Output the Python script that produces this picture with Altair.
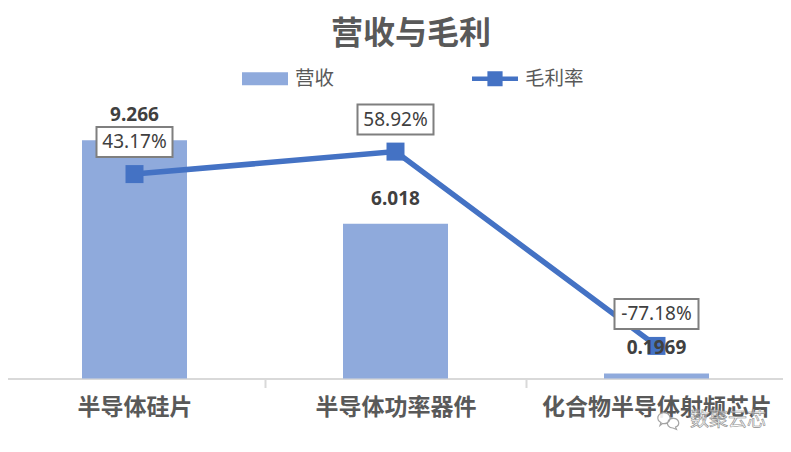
import altair as alt
import pandas as pd

categories = ["半导体硅片", "半导体功率器件", "化合物半导体射频芯片"]
revenue = [9.266, 6.018, 0.1969]
revenue_labels = ["9.266", "6.018", "0.1969"]
margin = [43.17, 58.92, -77.18]
margin_labels = ["43.17%", "58.92%", "-77.18%"]
series = ["营收", "毛利率"]

df = pd.DataFrame({"cat": categories, "rev": revenue, "revl": revenue_labels,
                   "m": margin, "ml": margin_labels})
BAR, LINE, GREY = "#8faadc", "#4472c4", "#595959"

x = alt.X("cat:N", sort=categories, title=None, scale=alt.Scale(paddingInner=0, paddingOuter=0),
          axis=alt.Axis(labelAngle=0, labelFont="Noto Sans CJK SC", labelFontWeight="bold",
                        labelFontSize=23, labelColor=GREY, labelPadding=9, labelLimit=300,
                        domainColor="#d9d9d9", domainWidth=2, tickColor="#d9d9d9", tickWidth=2,
                        tickSize=9, tickBand="extent", labelBaseline="top"))
y1 = alt.Y("rev:Q", axis=None, scale=alt.Scale(domain=[0, 10], nice=False))
y2 = alt.Y("m:Q", axis=None, scale=alt.Scale(domain=[-100, 80], nice=False))

base = alt.Chart(df)
bars = base.mark_bar(color=BAR, size=105).encode(x=x, y=y1)
line = base.mark_line(color=LINE, strokeWidth=5.5).encode(x=x, y=y2)
pts = base.mark_point(filled=True, shape="square", size=324, color=LINE, opacity=1).encode(x=x, y=y2)

boxes = base.transform_calculate(w="28 + 8 * length(datum.ml)").mark_bar(
    fill="white", stroke="#7f7f7f", strokeWidth=2, yOffset=-47, y2Offset=-17
).encode(x=x, y=y2, y2="m:Q", size=alt.Size("w:Q", scale=None, legend=None))
box_text = base.mark_text(font="Noto Sans", fontSize=19, color="#404040", yOffset=-32).encode(
    x=x, y=y2, text="ml:N")
rev_text = base.mark_text(font="Noto Sans", fontSize=19, fontWeight="bold", color="#404040", yOffset=-25).encode(
    x=x, y=y1, text="revl:N")

helper = alt.Chart(pd.DataFrame({"s": series})).mark_point(filled=True, size=0, opacity=1).encode(
    color=alt.Color("s:N", sort=series, scale=alt.Scale(domain=series, range=[BAR, LINE]),
        legend=alt.Legend(orient="none", legendX=238, legendY=-66, title=None, columns=2,
                          columnPadding=137, symbolSize=2116, symbolStrokeWidth=0, labelOffset=7,
                          labelFont="Noto Sans CJK SC", labelFontSize=19.5, labelColor=GREY,
                          symbolOpacity=1)),
    shape=alt.Shape("s:N", sort=series, scale=alt.Scale(domain=series, range=[
        "M-1,-0.28H1V0.28H-1Z",
        "M-1,-0.1H-0.33V-0.33H0.33V-0.1H1V0.1H0.33V0.33H-0.33V0.1H-1Z"]), legend=alt.Legend(title=None)),
)

wm_icon = alt.Chart(pd.DataFrame({"a": ["icon"]})).mark_point(
    shape="M-1,-0.3A0.62,0.55 0 1 1 -0.55,0.4L-0.8,0.6L-0.7,0.3A0.62,0.55 0 0 1 -1,-0.3ZM0,0.2A0.55,0.45 0 1 1 0.75,0.75L0.85,1L0.5,0.85A0.55,0.45 0 0 1 0,0.2Z",
    size=400, stroke="#9a9a9a", strokeWidth=1.2, fill="white", filled=False, opacity=0.9
).encode(x=alt.value(664), y=alt.value(298))
wm_text = alt.Chart(pd.DataFrame({"t": ["数聚云芯"]})).mark_text(
    font="Noto Sans CJK SC", fontSize=19, fill="#ffffff", fillOpacity=0.55, stroke="#8c8c8c",
    strokeWidth=0.6, align="center").encode(x=alt.value(724), y=alt.value(298), text="t:N")

chart = alt.layer(bars, line, pts, boxes, box_text, rev_text, helper, wm_icon, wm_text).resolve_scale(
    y="independent"
).properties(
    width=783, height=257,
    title=alt.TitleParams("营收与毛利", font="Noto Sans CJK SC", fontSize=32, fontWeight="bold",
                          color=GREY, anchor="middle", dx=15.5, offset=0, dy=-5),
    autosize=alt.AutoSizeParams(type="none"),
    padding={"left": -4, "top": 113.5, "right": -4, "bottom": 73},
).configure_view(stroke=None).configure_axis(grid=False)

chart.save("out.html", embed_options={"renderer": "svg", "actions": False})
